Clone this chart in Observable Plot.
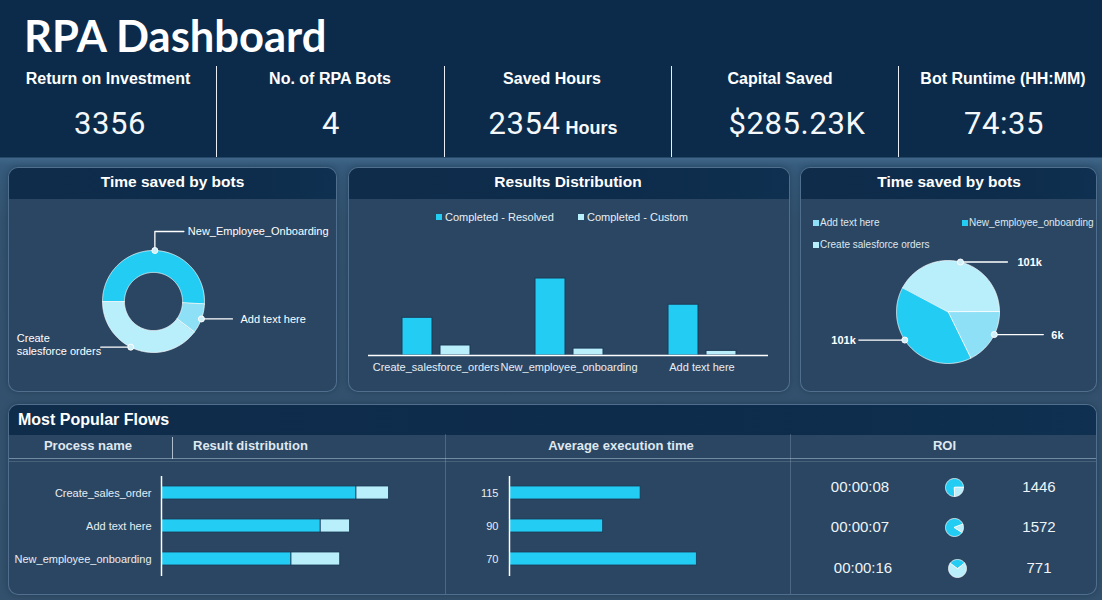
<!DOCTYPE html>
<html><head><meta charset="utf-8">
<script src="https://cdn.jsdelivr.net/npm/d3@7"></script>
<script src="https://cdn.jsdelivr.net/npm/@observablehq/plot@0.6"></script>
<style>
html,body{margin:0;padding:0;}
body{width:1102px;height:600px;overflow:hidden;font-family:"Liberation Sans",Arial,sans-serif;color:#fff;}
#root{position:relative;width:1102px;height:600px;overflow:hidden;
 background:linear-gradient(180deg,#0c2b4b 0px,#0c2b4b 157px,#3f6688 158px,#365b7c 166px,#33526f 220px,#33506c 100%);}
.plotbox svg{display:block;}
</style></head>
<body><div id="root"></div>
<script>
// ---------------- DATA ----------------
const kpiLabels = ["Return on Investment", "No. of RPA Bots", "Saved Hours", "Capital Saved", "Bot Runtime (HH:MM)"];
const kpiValues = ["3356", "4", "2354", "$285.23K", "74:35"];
const kpiUnits  = ["", "", "Hours", "", ""];

const donutNames  = ["New_Employee_Onboarding", "Add text here", "Create salesforce orders"];
const donutLabels = ["New_Employee_Onboarding", "Add text here", "Create\nsalesforce orders"];
const donutShares = [50.8, 9.4, 39.7];

const resultCats    = ["Create_salesforce_orders", "New_employee_onboarding", "Add text here"];
const resultSeries  = ["Completed - Resolved", "Completed - Custom"];
const resolvedVals  = [245, 500, 330];
const customVals    = [65, 45, 30];

const pieNames   = ["Create salesforce orders", "Add text here", "New_employee_onboarding"];
const pieShares  = [42.2, 17.8, 40.0];
const pieLabels  = ["101k", "6k", "101k"];
const pieLegend  = ["Add text here", "New_employee_onboarding", "Create salesforce orders"];

const flowNames    = ["Create_sales_order", "Add text here", "New_employee_onboarding"];
const flowResolved = [60, 49, 40];
const flowCustom   = [10, 9, 15];
const execLabels   = ["115", "90", "70"];
const execVals     = [7, 5, 10];
const roiTimes     = ["00:00:08", "00:00:07", "00:00:16"];
const roiShares    = [[75, 25], [85, 15], [30, 70]];
const roiValues    = ["1446", "1572", "771"];

// ---------------- STYLE ----------------
const BRIGHT = "#22ccf2", MEDIUM = "#8ee0f6", PALE = "#b9eefb";
const FONT = "Liberation Sans, Arial, sans-serif";
const root = document.getElementById("root");

function box(x, y, w, h, style = {}, parent = root) {
  const d = document.createElement("div");
  Object.assign(d.style, {position: "absolute", left: x + "px", top: y + "px", width: w + "px", height: h + "px"}, style);
  parent.appendChild(d);
  return d;
}
function label(str, x, y, style = {}, anchor = "middle") {
  const w = 420;
  const left = anchor === "middle" ? x - w / 2 : anchor === "start" ? x : x - w;
  const d = box(left, y - 15, w, 30, {whiteSpace: "nowrap",
    textAlign: anchor === "middle" ? "center" : anchor === "start" ? "left" : "right"});
  Object.assign(d.style, style);
  d.style.lineHeight = style.lineHeight || "30px";
  d.textContent = str;
  return d;
}
function place(node, x, y) {
  const d = box(x, y, node.getAttribute("width"), node.getAttribute("height"));
  d.className = "plotbox";
  d.appendChild(node);
}
function panel(x, y, w, h, headH) {
  const p = box(x, y, w, h, {borderRadius: "10px", background: "#2b4662", border: "1px solid rgba(150,190,225,0.35)",
    boxSizing: "border-box", overflow: "hidden", boxShadow: "0 0 6px rgba(10,30,50,0.35)"});
  box(0, 0, w, headH, {background: "linear-gradient(90deg,#0f2d4b,#0d2b4a 60%,#0f3050)"}, p);
  return p;
}

// ---------------- HEADER ----------------
label("RPA Dashboard", 24, 34, {font: "bold 43.5px Lato, 'Open Sans', sans-serif", color: "#ffffff", lineHeight: "54px", height: "54px", top: "8px"}, "start");
[216, 444, 671, 898].forEach(x => box(x, 66, 1, 91, {background: "#e8eef4"}));
const labelCenters = [108, 330, 552, 780, 1003];
const valueCenters = [110, 331, 553, 797, 1004];
kpiLabels.forEach((t, i) => label(t, labelCenters[i], 79, {font: "bold 16px " + FONT, color: "#ffffff"}));
kpiValues.forEach((t, i) => {
  const d = label("", valueCenters[i], 124, {font: "400 31px Roboto, sans-serif", color: "#f4f8fb", letterSpacing: "0.6px"});
  const s = document.createElement("span"); s.textContent = t; d.appendChild(s);
  if (kpiUnits[i]) {
    const u = document.createElement("span");
    u.textContent = " " + kpiUnits[i];
    Object.assign(u.style, {font: "bold 18px " + FONT, letterSpacing: "0px"});
    d.appendChild(u);
  }
});

// ---------------- PANELS ----------------
panel(8, 167, 329, 225, 31);
panel(348, 167, 442, 225, 31);
panel(800, 167, 297, 225, 31);
panel(8, 404, 1089, 191, 30);
label("Time saved by bots", 172.5, 182, {font: "bold 15.5px " + FONT});
label("Results Distribution", 568, 182, {font: "bold 15.5px " + FONT});
label("Time saved by bots", 949, 182, {font: "bold 15.5px " + FONT});
label("Most Popular Flows", 18, 420, {font: "bold 16px " + FONT}, "start");

// bottom table structure
box(9, 458, 1087, 1, {background: "rgba(200,220,240,0.45)"});
box(9, 461, 1087, 1, {background: "rgba(200,220,240,0.18)"});
box(172, 437, 1, 22, {background: "rgba(230,240,250,0.7)"});
box(445, 434, 1, 160, {background: "rgba(200,220,240,0.22)"});
box(790, 434, 1, 160, {background: "rgba(200,220,240,0.22)"});
const hdr = {font: "bold 13px " + FONT, color: "#dfe8f0"};
label("Process name", 88, 446, hdr);
label("Result distribution", 193, 446, hdr, "start");
label("Average execution time", 621, 446, hdr);
label("ROI", 944.5, 446, hdr);

// ---------------- PIE HELPER ----------------
function pieChart(o) {
  const {names, shares, colors, startDeg, width, height, cx, cy, r, inner = 0, notes = [], edge = "rgba(255,255,255,0.7)"} = o;
  const a0 = startDeg * Math.PI / 180;
  const arcs = d3.pie().sort(null).value(d => d).startAngle(a0).endAngle(a0 + 2 * Math.PI)(shares);
  const pts = [];
  arcs.forEach((a, i) => {
    const n = Math.max(2, Math.ceil((a.endAngle - a.startAngle) / 0.02));
    for (let k = 0; k <= n; k++) {
      const t = a.startAngle + (a.endAngle - a.startAngle) * k / n;
      pts.push({name: names[i], x: Math.sin(t), y: Math.cos(t)});
    }
    if (inner > 0) {
      for (let k = n; k >= 0; k--) {
        const t = a.startAngle + (a.endAngle - a.startAngle) * k / n;
        pts.push({name: names[i], x: inner * Math.sin(t), y: inner * Math.cos(t)});
      }
    } else pts.push({name: names[i], x: 0, y: 0});
  });
  const marks = [Plot.line(pts, {x: "x", y: "y", z: "name", fill: "name", stroke: edge, strokeWidth: 1, curve: "linear-closed"})];
  notes.forEach(nt => {
    const a = arcs[nt.i];
    const mid = (a.startAngle + a.endAngle) / 2 + (nt.shift || 0) * Math.PI / 180;
    const dot = {x: Math.sin(mid), y: Math.cos(mid)};
    const P = ([dx, dy]) => ({x: dot.x + dx / r, y: dot.y - dy / r});
    marks.push(Plot.line(nt.path.map(P), {x: "x", y: "y", stroke: "#ffffff", strokeWidth: 1.3}));
    marks.push(Plot.dot([dot], {x: "x", y: "y", r: 3, fill: "#cfeff9", stroke: "#ffffff", strokeWidth: 1}));
    const tp = P(nt.at);
    marks.push(Plot.text([{...tp, label: nt.label}], {x: "x", y: "y", text: "label", textAnchor: nt.anchor,
      lineAnchor: "middle", fill: "#ffffff", fontSize: nt.size || 11, fontWeight: nt.weight || "normal", lineHeight: 1.25}));
  });
  return Plot.plot({
    width, height, margin: 0,
    style: {background: "transparent", fontFamily: FONT, overflow: "visible"},
    x: {domain: [-cx / r, (width - cx) / r], axis: null},
    y: {domain: [-(height - cy) / r, cy / r], axis: null},
    color: {domain: names, range: colors},
    marks
  });
}

// ---------------- DONUT ----------------
place(pieChart({
  names: donutNames, shares: donutShares, colors: [BRIGHT, MEDIUM, PALE], startDeg: -90,
  width: 329, height: 194, cx: 145, cy: 103, r: 51, inner: 0.57,
  notes: [
    {i: 0, label: donutLabels[0], path: [[0, 0], [0, -19], [29, -19]], at: [33, -20], anchor: "start"},
    {i: 1, label: donutLabels[1], path: [[0, 0], [31, 0]], at: [39, 0], anchor: "start"},
    {i: 2, label: donutLabels[2], shift: 8, path: [[0, 0], [-30, 0]], at: [-114, -3], anchor: "start"}
  ]
}), 8, 198);

// ---------------- RESULTS DISTRIBUTION ----------------
const legendItems = [[436, resultSeries[0], BRIGHT], [578, resultSeries[1], PALE]];
legendItems.forEach(([x, t, c]) => {
  box(x, 214, 6, 6, {background: c});
  label(t, x + 9, 217, {font: "11px " + FONT, color: "#e8f0f6"}, "start");
});
const resData = resultCats.map((c, i) => ({cat: c, resolved: resolvedVals[i], custom: customVals[i]}));
place(Plot.plot({
  width: 442, height: 192, marginLeft: 20, marginRight: 22, marginTop: 78, marginBottom: 37,
  style: {background: "transparent", color: "#e6eef5", fontSize: "11px", fontFamily: FONT},
  x: {domain: resultCats, padding: 0, tickSize: 0, tickPadding: 8, label: null},
  y: {domain: [0, 500], axis: null},
  marks: [
    Plot.barY(resData, {x: "cat", y: "resolved", fill: BRIGHT, insetLeft: 33, insetRight: 70, stroke: "#1a3956", strokeWidth: 1}),
    Plot.barY(resData, {x: "cat", y: "custom", fill: PALE, insetLeft: 71, insetRight: 32, stroke: "#1a3956", strokeWidth: 1}),
    Plot.ruleY([0], {stroke: "#ffffff", strokeWidth: 1.5})
  ]
}), 348, 200);

// ---------------- PIE (right) ----------------
const legendPos = [[813, 223], [962, 223], [813, 245]];
const legendColor = {"Add text here": MEDIUM, "New_employee_onboarding": BRIGHT, "Create salesforce orders": PALE};
pieLegend.forEach((t, i) => {
  const [x, y] = legendPos[i];
  box(x, y - 3, 6, 6, {background: legendColor[t]});
  label(t, x + 7, y, {font: "10px " + FONT, color: "#dde8f0"}, "start");
});
place(pieChart({
  names: pieNames, shares: pieShares, colors: pieNames.map(n => legendColor[n]), startDeg: -62,
  width: 297, height: 194, cx: 147.5, cy: 113.5, r: 51.5,
  notes: [
    {i: 0, label: pieLabels[0], path: [[0, 0], [47, 0]], at: [57, 0], anchor: "start", weight: "bold"},
    {i: 1, label: pieLabels[1], shift: -6, path: [[0, 0], [49, 0]], at: [57, 0], anchor: "start", weight: "bold"},
    {i: 2, label: pieLabels[2], shift: 11, path: [[0, 0], [-46, 0]], at: [-49, 0], anchor: "end", weight: "bold"}
  ]
}), 800, 198);

// ---------------- MOST POPULAR FLOWS ----------------
const flowData = flowNames.flatMap((n, i) => [
  {name: n, series: resultSeries[0], v: flowResolved[i]},
  {name: n, series: resultSeries[1], v: flowCustom[i]}
]);
place(Plot.plot({
  width: 437, height: 132, marginLeft: 153, marginRight: 0, marginTop: 16, marginBottom: 16,
  style: {background: "transparent", color: "#e6eef5", fontSize: "11px", fontFamily: FONT},
  x: {domain: [0, 87.4], axis: null},
  y: {domain: flowNames, paddingInner: 0.6, paddingOuter: 0.3, tickSize: 0, tickPadding: 10, label: null},
  color: {domain: resultSeries, range: [BRIGHT, PALE]},
  marks: [
    Plot.barX(flowData, Plot.stackX({y: "name", x: "v", fill: "series", order: resultSeries, stroke: "#1a3956", strokeWidth: 0.8})),
    Plot.ruleX([0], {stroke: "#ffffff", strokeWidth: 1.5})
  ]
}), 8, 460);

const execData = execLabels.map((l, i) => ({label: l, v: execVals[i]}));
place(Plot.plot({
  width: 345, height: 132, marginLeft: 64, marginRight: 0, marginTop: 16, marginBottom: 16,
  style: {background: "transparent", color: "#e6eef5", fontSize: "11px", fontFamily: FONT},
  x: {domain: [0, 15], axis: null},
  y: {domain: execLabels, paddingInner: 0.6, paddingOuter: 0.3, tickSize: 0, tickPadding: 11, label: null},
  marks: [
    Plot.barX(execData, {y: "label", x: "v", fill: BRIGHT, stroke: "#1a3956", strokeWidth: 0.8}),
    Plot.ruleX([0], {stroke: "#ffffff", strokeWidth: 1.5})
  ]
}), 445, 460);

// ROI column
const roiRowY = [487, 527, 568];
const roiTimeX = [860, 860, 863];
const roiPieX = [954, 954, 957];
const roiStart = [180, 124, -54];
roiTimes.forEach((t, i) => label(t, roiTimeX[i], roiRowY[i], {font: "15px " + FONT, color: "#eef4f8"}));
roiValues.forEach((t, i) => label(t, 1039, roiRowY[i], {font: "15px " + FONT, color: "#eef4f8"}));
roiShares.forEach((s, i) => {
  place(pieChart({
    names: ["a", "b"], shares: s, colors: [BRIGHT, PALE], startDeg: roiStart[i],
    width: 22, height: 22, cx: 11, cy: 11, r: 9, edge: "rgba(255,255,255,0.85)"
  }), roiPieX[i] - 11, roiRowY[i] - 11);
});
</script>
</body></html>
